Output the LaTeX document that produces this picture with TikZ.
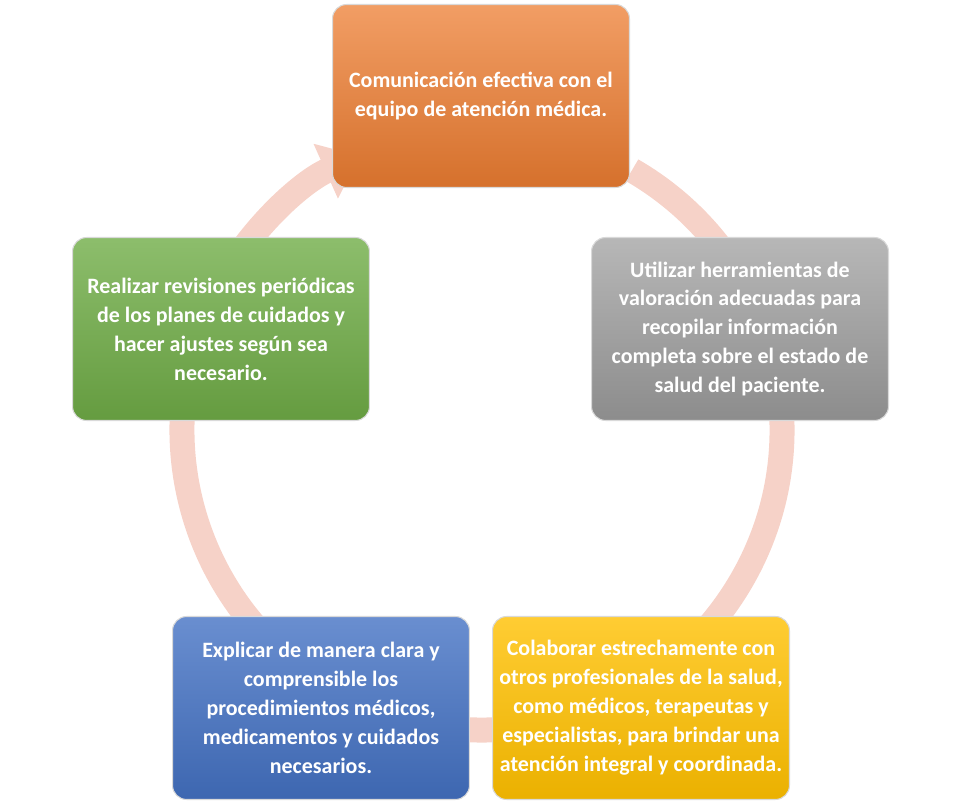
\documentclass[tikz,border=0pt]{standalone}
\usepackage{fontspec}
\setmainfont{Carlito}
\usepackage{tikz}
\usetikzlibrary{arrows.meta,positioning}
\definecolor{cOrange}{HTML}{ED7D31}
\definecolor{cGray}{HTML}{A5A5A5}
\definecolor{cYellow}{HTML}{FFC000}
\definecolor{cBlue}{HTML}{4472C4}
\definecolor{cGreen}{HTML}{70AD47}
\definecolor{cRing}{HTML}{F6D2C8}
\begin{document}
\begin{tikzpicture}[x=0.02cm, y=0.02cm,
        block/.style={rectangle, draw=white!85!black, line width=0.6pt, text=white, font=\bfseries\fontsize{12.5}{16.5}\selectfont,
            align=center, rounded corners=8pt, minimum width=5.94cm, minimum height=3.66cm},
        ring/.style={line width=0.5cm, draw=cRing, -{Triangle[width=1.15cm, length=0.75cm]}}
    ]
        \useasboundingbox (0,0) rectangle (965,805);
        % Ring
        \draw[ring] (482,375) ++(60:300) arc[start angle=60, end angle=-246, radius=300];

        % Blocks
        \node[block, top color=cOrange!75!white, bottom color=cOrange!90!black] (comm) at (481,709) {Comunicación efectiva con el\\equipo de atención médica.};
        \node[block, top color=cGray!80!white, bottom color=cGray!85!black] (tools) at (740,476) {Utilizar herramientas de\\valoración adecuadas para\\recopilar información\\completa sobre el estado de\\salud del paciente.};
        \node[block, top color=cYellow!80!white, bottom color=cYellow!92!black] (collab) at (641,97) {Colaborar estrechamente con\\otros profesionales de la salud,\\como médicos, terapeutas y\\especialistas, para brindar una\\atención integral y coordinada.};
        \node[block, top color=cBlue!80!white, bottom color=cBlue!90!black] (explain) at (321,97) {Explicar de manera clara y\\comprensible los\\procedimientos médicos,\\medicamentos y cuidados\\necesarios.};
        \node[block, top color=cGreen!80!white, bottom color=cGreen!90!black] (review) at (221,476) {Realizar revisiones periódicas\\de los planes de cuidados y\\hacer ajustes según sea\\necesario.};
    \end{tikzpicture}
\end{document}
